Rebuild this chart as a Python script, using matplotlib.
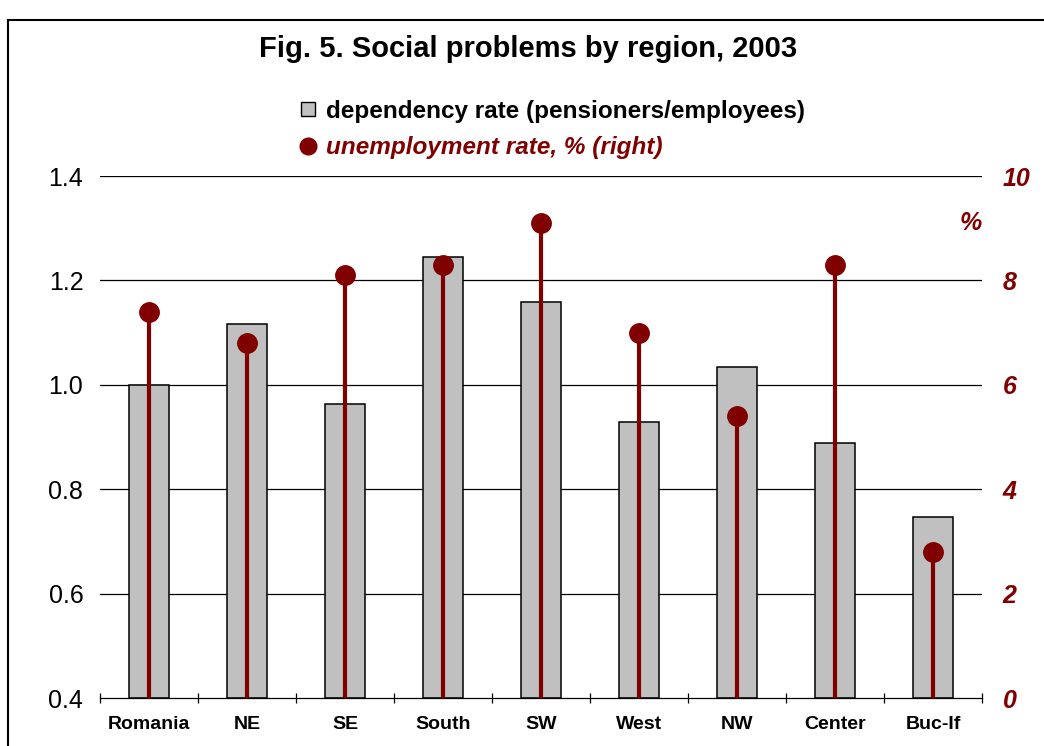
import numpy as np
import matplotlib
matplotlib.use("Agg")
import matplotlib.pyplot as plt
from matplotlib.lines import Line2D
from matplotlib.patches import Rectangle

# =========================
# DATA
# =========================

regions = ["Romania", "NE", "SE", "South", "SW", "West", "NW", "Center", "Buc-If"]
dependency = [1.0, 1.116, 0.963, 1.245, 1.159, 0.929, 1.034, 0.889, 0.747]
unemployment = [7.4, 6.8, 8.1, 8.3, 9.1, 7.0, 5.4, 8.3, 2.8]

left_ticks = [0.4, 0.6, 0.8, 1.0, 1.2, 1.4]
right_ticks = [0, 2, 4, 6, 8, 10]

RED = "#800000"
GRAY = "#C0C0C0"

plt.rcParams["font.family"] = ["Liberation Sans", "DejaVu Sans"]

# =========================
# FIGURE
# =========================

fig = plt.figure(figsize=(10.44, 7.46), dpi=100)
ax = fig.add_axes([100 / 1044, 1 - 698 / 746, 882 / 1044, 522 / 746])
ax2 = ax.twinx()

x = np.arange(len(regions))

ax.bar(x, [d - 0.4 for d in dependency], bottom=0.4, width=0.4,
       color=GRAY, edgecolor="black", linewidth=1.1, zorder=2)

ax.set_xlim(-0.5, len(regions) - 0.5)
ax.set_ylim(0.4, 1.4)
ax.set_yticks(left_ticks)
ax.set_yticklabels(["%.1f" % t for t in left_ticks], fontsize=18)
ax.tick_params(axis="y", length=0, pad=12)
for t in left_ticks[1:]:
    ax.axhline(t, color="black", linewidth=0.9, zorder=1)

ax.set_xticks(x)
ax.set_xticklabels(regions, fontsize=14, fontweight="bold")
ax.tick_params(axis="x", length=0, pad=13)
ax.set_xticks(np.arange(len(regions) + 1) - 0.5, minor=True)
ax.tick_params(axis="x", which="minor", length=7, direction="inout", width=0.9)

for s in ["left", "right", "top"]:
    ax.spines[s].set_visible(False)
    ax2.spines[s].set_visible(False)
ax.spines["bottom"].set_linewidth(0.9)
ax2.spines["bottom"].set_visible(False)

# stems and markers on the right axis
ax2.vlines(x, 0, unemployment, color=RED, linewidth=3, zorder=3)
ax2.plot(x, unemployment, "o", color=RED, markersize=14, zorder=4)
ax2.set_ylim(0, 10)
ax2.set_yticks(right_ticks)
ax2.set_yticklabels([str(t) for t in right_ticks], fontsize=18,
                    fontweight="bold", fontstyle="italic", color=RED)
ax2.tick_params(axis="y", length=0, pad=15)
ax2.text(1.0, 9.1, "%", color=RED, fontsize=18, fontweight="bold",
         fontstyle="italic", ha="right", va="center",
         transform=ax2.get_yaxis_transform())

# =========================
# TITLE / LEGEND
# =========================

fig.text(0.506, 1 - 49 / 746, "Fig. 5. Social problems by region, 2003",
         ha="center", va="center", fontsize=21, fontweight="bold")

handles = [
    Line2D([], [], linestyle="none", marker="s", markersize=10,
           markerfacecolor=GRAY, markeredgecolor="black"),
    Line2D([], [], linestyle="none", marker="o", markersize=12, color=RED),
]
leg = fig.legend(handles, ["dependency rate (pensioners/employees)",
                           "unemployment rate, % (right)"],
                 loc="upper left", bbox_to_anchor=(274 / 1044, 1 - 78 / 746),
                 frameon=False, handletextpad=0.25, labelspacing=0.55,
                 prop={"size": 17.5, "weight": "bold"}, handlelength=1.0)
leg.get_texts()[1].set_color(RED)
leg.get_texts()[1].set_fontstyle("italic")

# figure frame
fig.patches.append(Rectangle((8 / 1044, -0.05), 1.2, 1 - 20 / 746 + 0.05,
                             transform=fig.transFigure, fill=False,
                             edgecolor="black", linewidth=1.5))

fig.savefig("out.png", dpi=100)
